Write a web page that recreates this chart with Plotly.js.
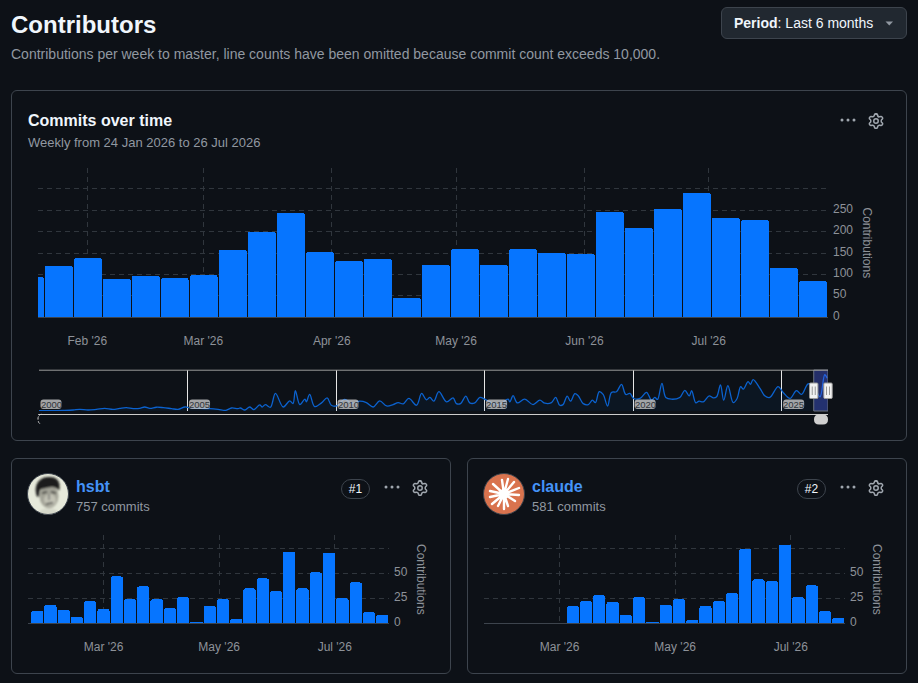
<!DOCTYPE html>
<html>
<head>
<meta charset="utf-8">
<script src="https://cdn.plot.ly/plotly-3.0.1.min.js"></script>
<style>
html,body{margin:0;padding:0;background:#0d1117;width:918px;height:683px;overflow:hidden;font-family:"Liberation Sans",Arial,sans-serif;}
.abs{position:absolute;white-space:nowrap;}
.card{position:absolute;box-sizing:border-box;border:1px solid #3d444d;border-radius:6px;}
.plot{position:absolute;}
.muted{color:#9198a1;}
.pill{position:absolute;box-sizing:border-box;border:1px solid #3d444d;border-radius:10px;color:#f0f6fc;font-size:12px;text-align:center;line-height:18px;height:20px;width:29px;}
</style>
</head>
<body>
<div class="abs" style="left:11px;top:11px;font-size:24px;font-weight:700;color:#f0f6fc;line-height:28px;">Contributors</div>
<div class="abs muted" style="left:11px;top:45px;font-size:14px;line-height:18px;">Contributions per week to master, line counts have been omitted because commit count exceeds 10,000.</div>
<div class="abs" style="left:721px;top:7px;width:186px;height:32px;box-sizing:border-box;background:#212830;border:1px solid #3d444d;border-radius:6px;"></div>
<div class="abs" style="left:734px;top:14px;font-size:14px;line-height:18px;color:#f0f6fc;"><b>Period</b>: Last 6 months</div>
<svg class="abs" style="left:885px;top:21px" width="9" height="5"><path d="M0.5 0.5H8L4.25 4.5Z" fill="#9198a1"/></svg>

<div class="card" style="left:11px;top:90px;width:896px;height:351px;"></div>
<div class="abs" style="left:28px;top:111px;font-size:16px;font-weight:700;color:#f0f6fc;line-height:20px;">Commits over time</div>
<div class="abs muted" style="left:28px;top:135px;font-size:13px;line-height:16px;">Weekly from 24 Jan 2026 to 26 Jul 2026</div>

<div class="card" style="left:11px;top:458px;width:440px;height:216px;"></div>
<div class="card" style="left:467px;top:458px;width:440px;height:216px;"></div>

<svg class="abs" style="left:27px;top:473px" width="42" height="42" viewBox="0 0 42 42">
  <defs>
    <clipPath id="av"><circle cx="21" cy="21" r="20.5"/></clipPath>
    <filter id="soft" x="-20%" y="-20%" width="140%" height="140%"><feGaussianBlur stdDeviation="0.8"/></filter>
  </defs>
  <circle cx="21" cy="21" r="20.5" fill="#e6e9da"/>
  <g clip-path="url(#av)" filter="url(#soft)">
    <path d="M10 42C12 37 16 36 21 35C27 35 31 37 33 42Z" fill="#d6d8ca"/>
    <ellipse cx="22" cy="23" rx="9.5" ry="12" fill="#a3a397"/>
    <ellipse cx="23" cy="27" rx="6" ry="6" fill="#c2c2b5"/>
    <path d="M9 20C7 9 15 3 23 4C31 4 34 10 32 18C30 15 28 14 25 14C20 15 16 15 13 17L12 24C10 24 9 22 9 20Z" fill="#1c1c1a"/>
    <path d="M15 20L20 19M24 19L29 20" stroke="#222" stroke-width="1.6"/>
    <path d="M19 31L26 30" stroke="#333" stroke-width="1.4"/>
    <path d="M22 21V27" stroke="#666" stroke-width="1.3"/>
  </g>
  <circle cx="21" cy="21" r="20.5" fill="none" stroke="#3d444d"/>
</svg>
<div class="abs" style="left:76px;top:477px;font-size:16px;font-weight:700;color:#4493f8;line-height:20px;">hsbt</div>
<div class="abs muted" style="left:76px;top:498px;font-size:13px;line-height:17px;">757 commits</div>
<div class="pill" style="left:341px;top:479px;">#1</div>

<svg class="abs" style="left:483px;top:473px" width="42" height="42" viewBox="0 0 42 42">
  <circle cx="21" cy="21" r="20.5" fill="#d9734e"/>
  <circle cx="21" cy="21" r="20.5" fill="none" stroke="#3d444d"/>
  <g stroke="#fff" stroke-width="2.4" stroke-linecap="round">
    <path d="M21 21L19 7M21 21L25 6M21 21L31 9M21 21L36 15M21 21L36 22M21 21L32 28M21 21L25 33M21 21L21 36M21 21L15 33M21 21L9 31M21 21L7 24M21 21L7 18M21 21L10 11"/>
  </g>
  <circle cx="21" cy="21" r="5" fill="#fff"/>
</svg>
<div class="abs" style="left:532px;top:477px;font-size:16px;font-weight:700;color:#4493f8;line-height:20px;">claude</div>
<div class="abs muted" style="left:532px;top:498px;font-size:13px;line-height:17px;">581 commits</div>
<div class="pill" style="left:797px;top:479px;">#2</div>

<div id="main" class="plot" style="left:0;top:150px;width:918px;height:200px;"></div>
<div id="nav" class="plot" style="left:0;top:360px;width:918px;height:70px;"></div>
<div id="hsbt" class="plot" style="left:0;top:525px;width:460px;height:140px;"></div>
<div id="claude" class="plot" style="left:456px;top:525px;width:460px;height:140px;"></div>

<script>
// ---------- data ----------
const mainWeeks = ['2026-01-18','2026-01-25','2026-02-01','2026-02-08','2026-02-15','2026-02-22','2026-03-01','2026-03-08','2026-03-15','2026-03-22','2026-03-29','2026-04-05','2026-04-12','2026-04-19','2026-04-26','2026-05-03','2026-05-10','2026-05-17','2026-05-24','2026-05-31','2026-06-07','2026-06-14','2026-06-21','2026-06-28','2026-07-05','2026-07-12','2026-07-19','2026-07-26'];
const mainValues = [94,120,138,89,96,91,98,157,199,244,152,131,136,45,122,159,122,159,150,148,246,209,253,291,232,227,115,84];
const contribWeeks = mainWeeks.slice(1);
const hsbtValues = [12,18,13,6,22,14,47,24,37,24,15,26,1,17,24,4,35,45,32,72,35,51,71,25,41,11,8];
const claudeValues = [0,0,0,0,0,0,17,22,28,21,8,26,1,18,24,3,17,22,30,75,44,42,79,26,38,12,5];
const mainTickDates = ['2026-02-01','2026-03-01','2026-04-01','2026-05-01','2026-06-01','2026-07-01'];
const mainTickText = ["Feb '26","Mar '26","Apr '26","May '26","Jun '26","Jul '26"];
const contribTickDates = ['2026-03-01','2026-05-01','2026-07-01'];
const contribTickText = ["Mar '26","May '26","Jul '26"];
const mainYTicks = [0,50,100,150,200,250,300];
const mainYText = ['0','50','100','150','200','250',''];
const contribYTicks = [0,25,50,75];
const contribYText = ['0','25','50',''];
const navYears = [2000,2000.36,2000.81,2001.15,2001.37,2001.65,2001.93,2002.21,2002.49,2002.72,2002.94,2003.17,2003.39,2003.56,2003.73,2003.95,2004.18,2004.46,2004.68,2004.91,2005.07,2005.41,2005.75,2006.03,2006.29,2006.48,2006.7,2006.78,2006.93,2007.09,2007.23,2007.43,2007.51,2007.62,2007.79,2007.96,2008.22,2008.44,2008.55,2008.63,2008.78,2008.95,2009,2009.11,2009.28,2009.51,2009.7,2009.84,2010.01,2010.29,2010.52,2010.8,2011.02,2011.25,2011.47,2011.7,2011.92,2012.09,2012.26,2012.45,2012.71,2012.88,2013.04,2013.16,2013.29,2013.46,2013.72,2013.94,2014.05,2014.19,2014.37,2014.5,2014.67,2014.84,2015.02,2015.18,2015.46,2015.79,2015.85,2015.96,2016.1,2016.35,2016.63,2016.86,2017.03,2017.25,2017.39,2017.53,2017.64,2017.78,2017.89,2018.04,2018.15,2018.32,2018.49,2018.63,2018.73,2018.86,2018.99,2019.14,2019.27,2019.44,2019.61,2019.75,2019.89,2020.02,2020.23,2020.45,2020.62,2020.73,2020.82,2020.97,2021.1,2021.29,2021.57,2021.74,2021.89,2021.97,2022.11,2022.22,2022.36,2022.56,2022.69,2022.81,2022.94,2023.05,2023.19,2023.37,2023.5,2023.62,2023.71,2023.87,2023.95,2024.04,2024.27,2024.43,2024.6,2024.88,2025.05,2025.28,2025.5,2025.67,2025.89,2026.06,2026.29,2026.45,2026.53];
const navValues = [3,3,5,8,13,8,13,21,13,21,27,19,21,32,21,30,27,19,13,32,27,21,19,13,5,24,19,24,8,32,11,49,32,51,30,140,32,81,59,162,51,95,73,132,35,65,105,46,40,92,62,78,67,32,81,40,51,67,57,100,46,140,89,108,78,154,73,105,59,59,119,65,65,108,92,73,51,95,73,122,65,95,51,86,62,67,108,46,51,119,78,138,122,59,51,86,67,154,132,40,148,154,213,132,140,100,100,148,86,108,92,221,108,94,108,165,121,162,65,78,73,121,105,113,208,86,202,67,100,194,175,235,213,251,181,121,108,194,148,100,162,132,216,208,113,289,262];
const navTickYears = [2000,2005,2010,2015,2020,2025];

// ---------- styling ----------
const BAR = '#0675ff', GRID = '#30363d', AXIS = '#3d444d', TXT = '#8d9299';
const FONT = '"Liberation Sans", Arial, sans-serif';
const DAY = 86400000;
const cfg = {staticPlot:true, displayModeBar:false};

function barChart(id, x, y, barDays, barShift, range, ticks, tickText, yt, ytText, yMax, m, w, h, titleShift){
  const trace = {type:'bar', x:x, y:y, width:barDays*DAY, offset:(-barDays/2+barShift)*DAY,
    marker:{color:BAR, cornerradius:2, line:{width:0}}, hoverinfo:'skip'};
  const layout = {
    width:w, height:h, margin:m, paper_bgcolor:'rgba(0,0,0,0)', plot_bgcolor:'rgba(0,0,0,0)',
    showlegend:false, font:{family:FONT,size:12,color:TXT},
    xaxis:{type:'date', range:range, tickmode:'array', tickvals:ticks, ticktext:tickText,
      showgrid:true, gridcolor:GRID, griddash:'5px,4px', gridwidth:1, ticks:'', ticklabelstandoff:13,
      showline:true, linecolor:AXIS, linewidth:1, zeroline:false, tickangle:0, tickfont:{family:FONT,size:12,color:TXT}},
    yaxis:{side:'right', range:[0,yMax], tickmode:'array', tickvals:yt, ticktext:ytText,
      showgrid:true, gridcolor:GRID, griddash:'5px,4px', gridwidth:1, ticks:'', ticklabelstandoff:4,
      showline:false, zeroline:false, tickfont:{family:FONT,size:12,color:TXT}},
    annotations:[{text:'Contributions', xref:'paper', yref:'paper', x:1, y:0.5, xshift:titleShift,
      xanchor:'center', yanchor:'middle', textangle:90, showarrow:false, font:{family:FONT,size:12,color:TXT}}],
    bargap:0
  };
  return Plotly.newPlot(id,[trace],layout,cfg).then(function(gd){
    gd.querySelectorAll('.ytick text').forEach(function(t){ t.setAttribute('dy','-1.6'); });
  });
}

barChart('main', mainWeeks, mainValues, 6.76, 0.1, ['2026-01-20 02:24','2026-07-29 18:40'], mainTickDates, mainTickText, mainYTicks, mainYText, 349.2,
  {l:38,r:90,t:18,b:33,pad:0}, 918, 200, 39);
barChart('hsbt', contribWeeks, hsbtValues, 6.5, 0, ['2026-01-20 04:00','2026-07-29 14:00'], contribTickDates, contribTickText, contribYTicks, contribYText, 88.7,
  {l:28,r:71,t:10,b:41.7,pad:0}, 460, 140, 32);
barChart('claude', contribWeeks, claudeValues, 6.5, 0, ['2026-01-20 04:00','2026-07-29 14:00'], contribTickDates, contribTickText, contribYTicks, contribYText, 88.7,
  {l:28,r:71,t:10,b:41.7,pad:0}, 460, 140, 32);

// ---------- navigator ----------
function rr(x0,y0,x1,y1,r){
  return 'M'+(x0+r)+' '+y0+' L'+(x1-r)+' '+y0+' Q'+x1+' '+y0+' '+x1+' '+(y0+r)+' L'+x1+' '+(y1-r)+' Q'+x1+' '+y1+' '+(x1-r)+' '+y1+
         ' L'+(x0+r)+' '+y1+' Q'+x0+' '+y1+' '+x0+' '+(y1-r)+' L'+x0+' '+(y0+r)+' Q'+x0+' '+y0+' '+(x0+r)+' '+y0+' Z';
}
const NAV0 = 2000, SEL0 = 2026.08, SEL1 = 2026.56;
const frac = function(v){ return (v-NAV0)/(SEL1-NAV0); };
const navShapes = [];
navTickYears.forEach(function(yr){
  navShapes.push({type:'path', layer:'above', xref:'paper', yref:'paper', xsizemode:'pixel', ysizemode:'pixel', xanchor:frac(yr), yanchor:0,
    path:rr(1.5,2,22.5,11.5,3), fillcolor:'rgba(205,205,205,0.78)', line:{width:0}});
});
navShapes.push({type:'rect', layer:'above', xref:'x', yref:'paper', x0:SEL0, x1:SEL1, y0:0, y1:1,
  fillcolor:'rgba(80,100,255,0.35)', line:{color:'#6d7580', width:1}});
navShapes.push({type:'line', layer:'above', xref:'paper', yref:'paper', x0:0, x1:1, y0:0.995, y1:0.995, line:{color:'#9a9a9a',width:1}});
navShapes.push({type:'line', layer:'above', xref:'paper', yref:'paper', x0:-0.001, x1:1, y0:-0.085, y1:-0.085, line:{color:'#cfcfcf',width:1}});
navShapes.push({type:'path', layer:'above', xref:'paper', yref:'paper', xsizemode:'pixel', ysizemode:'pixel', xanchor:0, yanchor:0,
  path:'M3 -3.3 Q-1 -3.3 -1 -8 Q-1 -12 1.5 -13', line:{color:'#cfcfcf',width:1,dash:'3px,1.5px'}});
navShapes.push({type:'path', layer:'above', xref:'paper', yref:'paper', xsizemode:'pixel', ysizemode:'pixel', xanchor:1, yanchor:0,
  path:rr(-14,-13.5,0,-3.5,5), fillcolor:'#cfcfcf', line:{width:0}});
[SEL0,SEL1].forEach(function(a){
  navShapes.push({type:'path', layer:'above', xref:'paper', yref:'paper', xsizemode:'pixel', ysizemode:'pixel', xanchor:frac(a), yanchor:0,
    path:rr(-4.2,12.5,4.2,28,1), fillcolor:'#f2f2f2', line:{color:'#999',width:1}});
  navShapes.push({type:'path', layer:'above', xref:'paper', yref:'paper', xsizemode:'pixel', ysizemode:'pixel', xanchor:frac(a), yanchor:0,
    path:'M-1.5 16 L-1.5 24.5 M1.5 16 L1.5 24.5', line:{color:'#999',width:1}});
});
const navAnn = navTickYears.map(function(yr){
  return {text:String(yr), xref:'x', yref:'y', x:yr, y:0, xshift:12, yshift:6.5, xanchor:'center', yanchor:'middle',
    showarrow:false, font:{family:FONT,size:9.5,color:'#2f343a'}};
});
Plotly.newPlot('nav',[{
  type:'scatter', mode:'lines', x:navYears, y:navValues, fill:'tozeroy', fillcolor:'rgba(6,117,255,0.05)',
  line:{color:'#0b62cf', width:1.3, shape:'spline', smoothing:1}, hoverinfo:'skip', cliponaxis:true
}],{
  width:918, height:70, margin:{l:39,r:90,t:10,b:19,pad:0}, paper_bgcolor:'rgba(0,0,0,0)', plot_bgcolor:'rgba(0,0,0,0)',
  showlegend:false, font:{family:FONT,size:9,color:TXT},
  xaxis:{range:[NAV0,SEL1], tickmode:'array', tickvals:navTickYears, ticktext:navTickYears.map(function(){return '';}),
    showgrid:true, gridcolor:'#e6e6e6', gridwidth:1, ticks:'', showline:false, zeroline:false, showticklabels:false},
  yaxis:{range:[0,327], showgrid:false, zeroline:false, showline:false, ticks:'', showticklabels:false},
  shapes:navShapes, annotations:navAnn
},cfg);
</script>

<!-- toolbar icons -->
<svg width="0" height="0" style="position:absolute"><defs>
<symbol id="gear" viewBox="0 0 16 16"><path fill="#9fa6ae" d="M8 0a8.2 8.2 0 0 1 .701.031C9.444.095 9.99.645 10.16 1.29l.288 1.107c.018.066.079.158.212.224.231.114.454.243.668.386.123.082.233.09.299.071l1.103-.303c.644-.176 1.392.021 1.82.63.27.385.506.792.704 1.218.315.675.111 1.422-.364 1.891l-.814.806c-.049.048-.098.147-.088.294.016.257.016.515 0 .772-.01.147.038.246.088.294l.814.806c.475.469.679 1.216.364 1.891a7.977 7.977 0 0 1-.704 1.217c-.428.61-1.176.807-1.82.63l-1.102-.302c-.067-.019-.177-.011-.3.071a5.909 5.909 0 0 1-.668.386c-.133.066-.194.158-.211.224l-.29 1.106c-.168.646-.715 1.196-1.458 1.26a8.006 8.006 0 0 1-1.402 0c-.743-.064-1.289-.614-1.458-1.26l-.289-1.106c-.018-.066-.079-.158-.212-.224a5.738 5.738 0 0 1-.668-.386c-.123-.082-.233-.09-.299-.071l-1.103.303c-.644.176-1.392-.021-1.82-.63a8.12 8.12 0 0 1-.704-1.218c-.315-.675-.111-1.422.363-1.891l.815-.806c.05-.048.098-.147.088-.294a6.214 6.214 0 0 1 0-.772c.01-.147-.038-.246-.088-.294l-.815-.806C.635 6.045.431 5.298.746 4.623a7.92 7.92 0 0 1 .704-1.217c.428-.61 1.176-.807 1.82-.63l1.102.302c.067.019.177.011.3-.071.214-.143.437-.272.668-.386.133-.066.194-.158.211-.224l.29-1.106C6.009.645 6.556.095 7.299.03 7.53.01 7.764 0 8 0Zm-.571 1.525c-.036.003-.108.036-.137.146l-.289 1.105c-.147.561-.549.967-.998 1.189-.173.086-.34.183-.5.29-.417.278-.97.423-1.529.27l-1.103-.303c-.109-.03-.175.016-.195.045-.22.312-.412.644-.573.99-.014.031-.021.11.059.19l.815.806c.411.406.562.957.53 1.456a4.709 4.709 0 0 0 0 .582c.032.499-.119 1.05-.53 1.456l-.815.806c-.081.08-.073.159-.059.19.162.346.353.677.573.989.02.03.085.076.195.046l1.102-.303c.56-.153 1.113-.008 1.53.27.161.107.328.204.501.29.447.222.85.629.997 1.189l.289 1.105c.029.109.101.143.137.146a6.6 6.6 0 0 0 1.142 0c.036-.003.108-.036.137-.146l.289-1.105c.147-.561.549-.967.998-1.189.173-.086.34-.183.5-.29.417-.278.97-.423 1.529-.27l1.103.303c.109.029.175-.016.195-.045.22-.313.411-.644.573-.99.014-.031.021-.11-.059-.19l-.815-.806c-.411-.406-.562-.957-.53-1.456a4.709 4.709 0 0 0 0-.582c-.032-.499.119-1.05.53-1.456l.815-.806c.081-.08.073-.159.059-.19a6.464 6.464 0 0 0-.573-.989c-.02-.03-.085-.076-.195-.046l-1.102.303c-.56.153-1.113.008-1.53.27a4.44 4.44 0 0 0-.501-.29c-.447-.222-.85-.629-.997-1.189l-.289-1.105c-.029-.11-.101-.143-.137-.146a6.6 6.6 0 0 0-1.142 0ZM11 8a3 3 0 1 1-6 0 3 3 0 0 1 6 0ZM9.5 8a1.5 1.5 0 1 0-3.001.001A1.5 1.5 0 0 0 9.5 8Z"/></symbol>
<symbol id="dots" viewBox="0 0 16 16"><circle cx="2" cy="8" r="1.5" fill="#9fa6ae"/><circle cx="8" cy="8" r="1.5" fill="#9fa6ae"/><circle cx="14" cy="8" r="1.5" fill="#9fa6ae"/></symbol>
</defs></svg>
<svg class="abs" style="left:840px;top:112px" width="16" height="16"><use href="#dots"/></svg>
<svg class="abs" style="left:868px;top:113px" width="16" height="16"><use href="#gear"/></svg>
<svg class="abs" style="left:384px;top:479px" width="16" height="16"><use href="#dots"/></svg>
<svg class="abs" style="left:412px;top:480px" width="16" height="16"><use href="#gear"/></svg>
<svg class="abs" style="left:840px;top:479px" width="16" height="16"><use href="#dots"/></svg>
<svg class="abs" style="left:868px;top:480px" width="16" height="16"><use href="#gear"/></svg>
</body>
</html>
